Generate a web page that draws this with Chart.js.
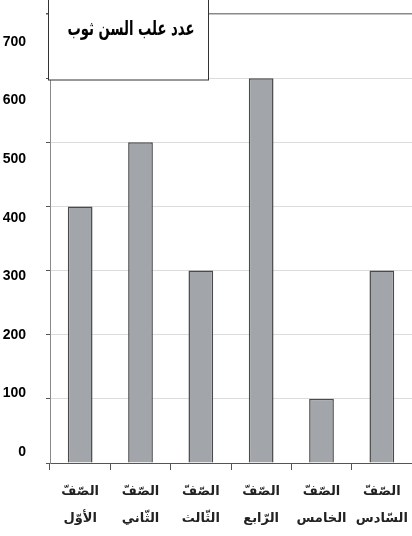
<!DOCTYPE html>
<html>
<head>
<meta charset="utf-8">
<script src="https://cdn.jsdelivr.net/npm/chart.js@4"></script>
<style>
  html, body { margin: 0; padding: 0; background: #fff; }
  #wrap { width: 412px; height: 536px; }
</style>
</head>
<body>
<div id="wrap"><canvas id="myChart" width="412" height="536"></canvas></div>
<script>
"use strict";

const classes = [
  ["الصّفّ", "الأوّل"],
  ["الصّفّ", "الثّاني"],
  ["الصّفّ", "الثّالث"],
  ["الصّفّ", "الرّابع"],
  ["الصّفّ", "الخامس"],
  ["الصّفّ", "السّادس"],
];
const boxCounts = [400, 500, 300, 600, 100, 300];
const yTicks = [0, 100, 200, 300, 400, 500, 600, 700];
const chartTitle = "عدد علب السن ثوب";

// title box drawn over the top-left corner of the plot
const titleBox = {
  id: "titleBox",
  afterDraw(chart) {
    const c = chart.ctx;
    c.save();
    c.fillStyle = "#fff";
    c.fillRect(48, -2, 160, 82);
    c.strokeStyle = "#333";
    c.lineWidth = 1;
    c.strokeRect(48.5, -2, 160, 82);
    c.fillStyle = "#000";
    c.font = "bold 20px 'DejaVu Sans'";
    c.textAlign = "center";
    c.textBaseline = "middle";
    c.fillText(chartTitle, 131, 30, 127);
    c.restore();
  },
};

const ctx = document.getElementById("myChart");

new Chart(ctx, {
  type: "bar",
  data: {
    labels: classes,
    datasets: [
      {
        label: chartTitle,
        data: boxCounts,
        backgroundColor: "#a2a5a9",
        borderColor: "#4a4a4a",
        borderWidth: 1.5,
        barPercentage: 0.41,
        categoryPercentage: 1,
        yAxisID: "y",
      },
    ],
  },
  options: {
    responsive: false,
    animation: false,
    layout: { padding: { top: 14, right: 0, left: 0, bottom: 0 } },
    plugins: {
      legend: { display: false },
      tooltip: { enabled: false },
    },
    scales: {
      x: {
        offset: true,
        grid: {
          offset: true,
          drawOnChartArea: false,
          drawTicks: true,
          tickLength: 7,
          color: "#555",
        },
        border: { color: "#555", width: 1 },
        ticks: {
          color: "#222",
          padding: 8,
          maxRotation: 0,
          font: { family: "'DejaVu Sans'", size: 13, weight: "bold", lineHeight: 2.1 },
        },
        afterFit(scale) {
          scale.height = 73;
          scale.paddingLeft = 0;
          scale.paddingRight = 0;
        },
      },
      y: {
        min: 0,
        max: 700,
        weight: 0,
        afterBuildTicks(scale) {
          scale.ticks = yTicks.map(v => ({ value: v }));
        },
        grid: {
          color: ctx => (ctx.tick && ctx.tick.value === 700 ? "#8a8a8a" : "#dcdcdc"),
          lineWidth: ctx => (ctx.tick && ctx.tick.value === 700 ? 1.5 : 1),
          tickLength: 4,
          tickColor: "#555",
        },
        border: { color: "#8a8a8a", width: 1 },
        ticks: { display: false },
        afterFit(scale) {
          scale.width = 4;
          scale.paddingTop = 0;
          scale.paddingBottom = 0;
        },
      },
      // the value labels in the original sit on a slightly squeezed scale
      yLabels: {
        position: "left",
        min: -19,
        max: 748,
        weight: 1,
        afterBuildTicks(scale) {
          scale.ticks = yTicks.map(v => ({ value: v }));
        },
        grid: { display: false },
        border: { display: false },
        ticks: {
          color: "#000",
          padding: 12,
          font: { family: "'Liberation Sans'", size: 14, weight: "bold" },
        },
        afterFit(scale) {
          scale.width = 46;
          scale.paddingTop = 0;
          scale.paddingBottom = 0;
        },
      },
    },
  },
  plugins: [titleBox],
});
</script>
</body>
</html>
